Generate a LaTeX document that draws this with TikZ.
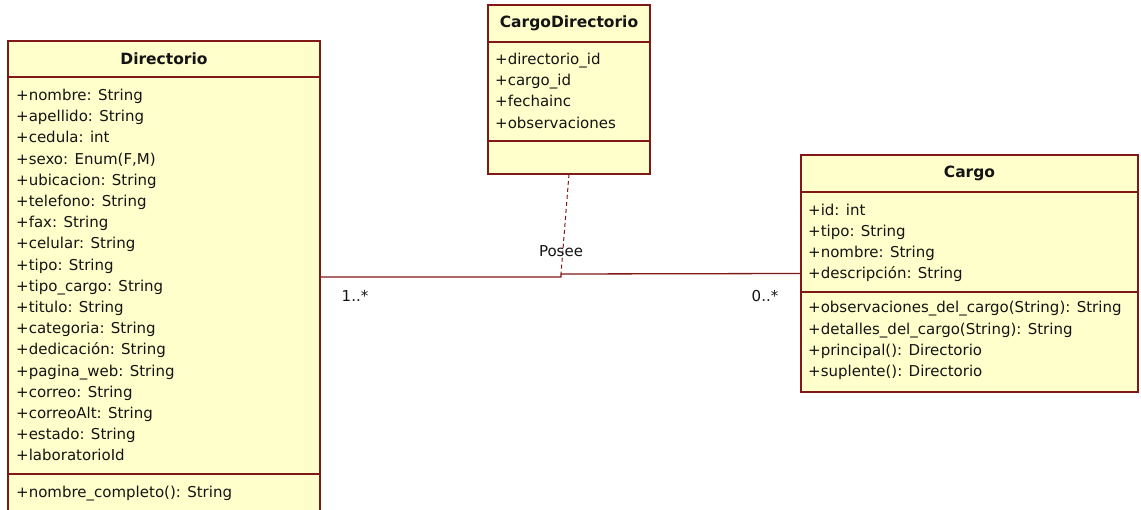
\documentclass[tikz,border=0pt]{standalone}
\usepackage{fontspec}
\setmainfont{DejaVu Sans}
\definecolor{umlfill}{RGB}{255,255,204}
\definecolor{umlline}{RGB}{128,24,24}
\definecolor{umltext}{RGB}{20,20,20}
\begin{document}
\begin{tikzpicture}[x=1pt,y=-1pt,
  classbox/.style={draw=umlline, fill=umlfill, line width=1.3pt, inner sep=0pt, outer sep=0pt, anchor=north west},
  compart/.style={draw=umlline, line width=1.3pt},
  classname/.style={font=\fontsize{15.5}{18}\selectfont\bfseries, text=umltext, inner sep=0pt},
  member/.style={font=\fontsize{15}{18}\selectfont, text=umltext, inner sep=0pt, anchor=base west},
  assoc/.style={draw=umlline, line width=1.3pt},
  anchorlink/.style={draw=umlline, line width=1pt, dash pattern=on 4pt off 3pt},
  lbl/.style={font=\fontsize{15}{18}\selectfont, text=umltext, inner sep=0pt}]
\useasboundingbox (0,0) rectangle (1141,510);
\fill[white] (0,0) rectangle (1141,510);

% ---- class Directorio (runs past the lower edge) ----
\node[classbox, minimum width=312pt, minimum height=485pt] (dir) at (8,41) {};
\draw[compart] (dir.west |- 0,77) -- (dir.east |- 0,77);
\draw[compart] (dir.west |- 0,474) -- (dir.east |- 0,474);
\node[classname] (dir-name) at (dir.north |- 0,59) {Directorio};
\foreach \t [count=\i from 0] in {%
  {+nombre: String},{+apellido: String},{+cedula: int},{+sexo: Enum(F,M)},
  {+ubicacion: String},{+telefono: String},{+fax: String},{+celular: String},
  {+tipo: String},{+tipo\_cargo: String},{+titulo: String},{+categoria: String},
  {+dedicación: String},{+pagina\_web: String},{+correo: String},
  {+correoAlt: String},{+estado: String},{+laboratorioId}}
  \node[member] (dir-a\i) at (16,100.5+21.2*\i) {\t};
\node[member] (dir-op0) at (16,497.5) {+nombre\_completo(): String};

% ---- association class CargoDirectorio ----
\node[classbox, minimum width=162pt, minimum height=169pt] (cd) at (488,5) {};
\draw[compart] (cd.west |- 0,42) -- (cd.east |- 0,42);
\draw[compart] (cd.west |- 0,141) -- (cd.east |- 0,141);
\node[classname] (cd-name) at (cd.north |- 0,23) {CargoDirectorio};
\foreach \t [count=\i from 0] in {{+directorio\_id},{+cargo\_id},{+fechainc},{+observaciones}}
  \node[member] (cd-a\i) at (495,64.5+21.2*\i) {\t};

% ---- class Cargo ----
\node[classbox, minimum width=337pt, minimum height=237pt] (cargo) at (801,155) {};
\draw[compart] (cargo.west |- 0,192) -- (cargo.east |- 0,192);
\draw[compart] (cargo.west |- 0,292) -- (cargo.east |- 0,292);
\node[classname] (cargo-name) at (cargo.north |- 0,173) {Cargo};
\foreach \t [count=\i from 0] in {{+id: int},{+tipo: String},{+nombre: String},{+descripción: String}}
  \node[member] (cargo-a\i) at (808,215.5+21*\i) {\t};
\foreach \t [count=\i from 0] in {{+observaciones\_del\_cargo(String): String},
  {+detalles\_del\_cargo(String): String},{+principal(): Directorio},{+suplente(): Directorio}}
  \node[member] (cargo-op\i) at (808,313+21.3*\i) {\t};

% ---- association Posee ----
\coordinate (mid) at (561,274);
\coordinate (dirport) at (dir.east |- 0,277);
\draw[assoc] (dirport) -- (dirport -| mid) -- (mid) -- (cargo.west);
\draw[anchorlink] (cd.south) -- (mid);
\node[lbl] (posee) at (561,251) {Posee};
\node[lbl] (mult-dir) at (355,296) {1..*};
\node[lbl] (mult-cargo) at (765,296) {0..*};
\end{tikzpicture}
\end{document}
